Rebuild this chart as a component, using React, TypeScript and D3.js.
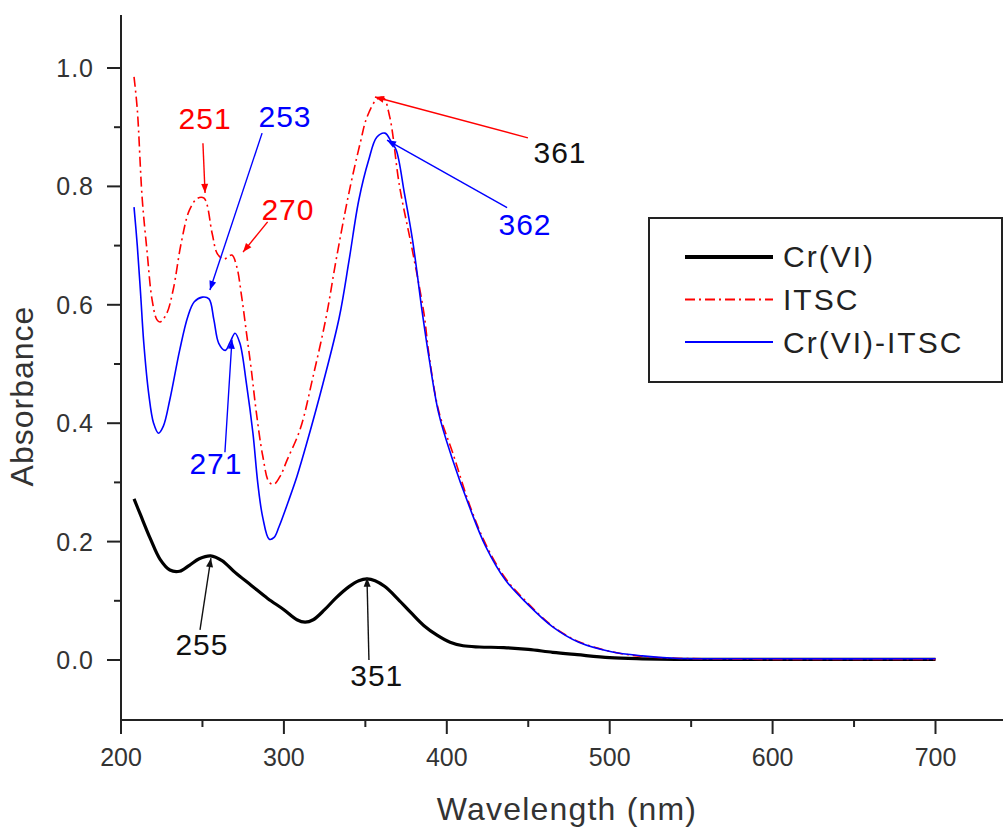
import React from "react";
import * as d3 from "d3";

// Cr(VI) alone
const crWl = [208, 212, 218, 224, 230, 236, 242, 248, 255, 262, 270, 280, 290, 300, 308, 313, 318, 325, 332, 340, 346, 351, 356, 362, 370, 378, 386, 394, 402, 410, 420, 435, 450, 465, 480, 500, 520, 540, 600, 700];
const crAbs = [0.272, 0.245, 0.205, 0.17, 0.152, 0.15, 0.16, 0.171, 0.176, 0.168, 0.148, 0.126, 0.104, 0.085, 0.068, 0.064, 0.068, 0.085, 0.105, 0.124, 0.134, 0.137, 0.134, 0.124, 0.103, 0.08, 0.058, 0.042, 0.03, 0.024, 0.022, 0.021, 0.018, 0.013, 0.009, 0.004, 0.002, 0.001, 0.001, 0.001];

// ITSC
const itscWl = [208, 210, 213, 216, 219, 222, 224, 228, 232, 237, 242, 247, 251, 256, 259, 263, 268, 271, 274, 277, 280, 283, 287, 291, 294, 298, 302, 310, 318, 326, 332, 340, 347, 351, 357, 361, 365, 371, 379, 386, 389, 395, 404, 414, 424, 436, 449, 465, 481, 501, 520, 540, 600, 700];
const itscAbs = [0.985, 0.93, 0.78, 0.69, 0.61, 0.575, 0.571, 0.585, 0.625, 0.705, 0.76, 0.78, 0.78, 0.72, 0.687, 0.677, 0.684, 0.665, 0.615, 0.553, 0.49, 0.42, 0.345, 0.3, 0.297, 0.312, 0.338, 0.39, 0.48, 0.58, 0.675, 0.79, 0.875, 0.917, 0.947, 0.95, 0.917, 0.8, 0.69, 0.585, 0.517, 0.421, 0.347, 0.262, 0.195, 0.138, 0.098, 0.057, 0.031, 0.014, 0.006, 0.003, 0.001, 0.001];

// Cr(VI)-ITSC complex
const mixWl = [208, 210, 212, 214, 217, 220, 223, 226, 230, 236, 241, 245, 250, 254, 257, 260, 264, 267, 270, 273, 277, 281, 284, 287, 291, 294, 297, 303, 308, 314, 324, 334, 340, 346, 352, 357, 362, 366, 369, 374, 379, 385, 389, 395, 403, 414, 424, 436, 449, 465, 481, 501, 520, 540, 600, 700];
const mixAbs = [0.765, 0.7, 0.62, 0.535, 0.45, 0.4, 0.383, 0.395, 0.44, 0.523, 0.58, 0.605, 0.613, 0.61, 0.575, 0.535, 0.523, 0.537, 0.552, 0.535, 0.467, 0.383, 0.298, 0.241, 0.204, 0.207, 0.225, 0.27, 0.31, 0.366, 0.467, 0.579, 0.675, 0.777, 0.844, 0.883, 0.89, 0.875, 0.861, 0.788, 0.709, 0.586, 0.512, 0.417, 0.343, 0.258, 0.191, 0.135, 0.096, 0.056, 0.03, 0.014, 0.007, 0.003, 0.002, 0.002];

const seriesNames = ["Cr(VI)", "ITSC", "Cr(VI)-ITSC"];
const xTicks = [200, 300, 400, 500, 600, 700];
const xMinor = [250, 350, 450, 550, 650];
const yTicks = [0, 0.2, 0.4, 0.6, 0.8, 1.0];
const yMinor = [0.1, 0.3, 0.5, 0.7, 0.9];

// peak labels: text, arrow tip (data units), tail and text anchor (data units)
const peakLabels = ["251", "253", "270", "361", "362", "271", "255", "351"];
const peakColors = ["#ff0000", "#0000ff", "#ff0000", "#111111", "#0000ff", "#0000ff", "#111111", "#111111"];
const lineColors = ["#ff0000", "#0000ff", "#ff0000", "#ff0000", "#0000ff", "#0000ff", "#111111", "#111111"];
const tipWl = [251.6, 254.6, 274.9, 355.9, 363.3, 268.1, 255.2, 351];
const tipAbs = [0.789, 0.625, 0.689, 0.951, 0.878, 0.541, 0.172, 0.139];
const tailWl = [250.3, 286.6, 290, 449.8, 437, 263.8, 248.5, 352.2];
const tailAbs = [0.873, 0.89, 0.74, 0.882, 0.764, 0.351, 0.051, 0.0];
const textWl = [251.6, 300.7, 302.5, 469.5, 448, 258.3, 249.7, 357];
const textAbs = [0.916, 0.919, 0.762, 0.858, 0.736, 0.333, 0.027, -0.025];

const W = 1008;
const H = 828;
const FONT = "'Liberation Sans', Arial, sans-serif";

export default function App() {
  const x = d3.scaleLinear().domain([200, 700]).range([121, 935.5]);
  const y = d3.scaleLinear().domain([0, 1]).range([660, 68]);
  const axisY = 720;
  const axisRight = 1003;
  const axisTop = 15;

  const mkLine = (wl: number[], ab: number[]) =>
    d3
      .line<number>()
      .x((_, i) => x(wl[i]))
      .y((d) => y(d))
      .curve(d3.curveCatmullRom.alpha(0.5))(ab) || "";

  const series = [
    { name: seriesNames[0], d: mkLine(crWl, crAbs), color: "#000000", width: 3.2, dash: "" },
    { name: seriesNames[1], d: mkLine(itscWl, itscAbs), color: "#ff0000", width: 1.6, dash: "10,4,2,4" },
    { name: seriesNames[2], d: mkLine(mixWl, mixAbs), color: "#0000ff", width: 1.6, dash: "" },
  ];

  const arrowTip = (i: number) => {
    const tx = x(tipWl[i]);
    const ty = y(tipAbs[i]);
    const sx = x(tailWl[i]);
    const sy = y(tailAbs[i]);
    const ang = Math.atan2(ty - sy, tx - sx);
    const len = 9;
    const half = 3.5;
    const bx = tx - len * Math.cos(ang);
    const by = ty - len * Math.sin(ang);
    const px = -Math.sin(ang) * half;
    const py = Math.cos(ang) * half;
    return `M${tx},${ty}L${bx + px},${by + py}L${bx - px},${by - py}Z`;
  };

  return (
    <div style={{ position: "absolute", left: 0, top: 0 }}>
      <svg width={W} height={H} style={{ display: "block", background: "#ffffff" }} fontFamily={FONT}>
        {/* series */}
        {series.map((s) => (
          <path
            key={s.name}
            d={s.d}
            fill="none"
            stroke={s.color}
            strokeWidth={s.width}
            strokeDasharray={s.dash || undefined}
            strokeLinejoin="round"
          />
        ))}

        {/* axes */}
        <line x1={121} x2={axisRight} y1={axisY} y2={axisY} stroke="#222" strokeWidth={2} />
        <line x1={121} x2={121} y1={axisTop} y2={axisY} stroke="#222" strokeWidth={2} />
        {xTicks.map((t) => (
          <g key={"xt" + t}>
            <line x1={x(t)} x2={x(t)} y1={axisY} y2={axisY + 14} stroke="#222" strokeWidth={2} />
            <text x={x(t)} y={766} textAnchor="middle" fontSize={25} fill="#333">
              {t}
            </text>
          </g>
        ))}
        {xMinor.map((t) => (
          <line key={"xm" + t} x1={x(t)} x2={x(t)} y1={axisY} y2={axisY + 7} stroke="#222" strokeWidth={2} />
        ))}
        {yTicks.map((t) => (
          <g key={"yt" + t}>
            <line x1={107} x2={121} y1={y(t)} y2={y(t)} stroke="#222" strokeWidth={2} />
            <text x={94} y={y(t) + 9} textAnchor="end" fontSize={25} fill="#333" letterSpacing={1}>
              {d3.format(".1f")(t)}
            </text>
          </g>
        ))}
        {yMinor.map((t) => (
          <line key={"ym" + t} x1={114} x2={121} y1={y(t)} y2={y(t)} stroke="#222" strokeWidth={2} />
        ))}

        {/* axis titles */}
        <text x={567} y={820} textAnchor="middle" fontSize={32} fill="#333" letterSpacing={1.2}>
          Wavelength (nm)
        </text>
        <text
          transform={`translate(33,396) rotate(-90)`}
          textAnchor="middle"
          fontSize={32}
          fill="#333"
          letterSpacing={1}
        >
          Absorbance
        </text>

        {/* peak annotations */}
        {peakLabels.map((lab, i) => (
          <g key={"pk" + i}>
            <line
              x1={x(tailWl[i])}
              y1={y(tailAbs[i])}
              x2={x(tipWl[i])}
              y2={y(tipAbs[i])}
              stroke={lineColors[i]}
              strokeWidth={1.4}
            />
            <path d={arrowTip(i)} fill={lineColors[i]} />
            <text
              x={x(textWl[i])}
              y={y(textAbs[i]) + 11}
              textAnchor="middle"
              fontSize={30}
              fill={peakColors[i]}
              letterSpacing={1}
            >
              {lab}
            </text>
          </g>
        ))}

        {/* legend */}
        <rect x={649} y={218} width={353} height={164} fill="#fff" stroke="#222" strokeWidth={2} />
        {series.map((s, i) => (
          <g key={"lg" + s.name}>
            <line
              x1={685}
              x2={773}
              y1={257 + i * 42.5}
              y2={257 + i * 42.5}
              stroke={s.color}
              strokeWidth={i === 0 ? 4 : 2}
              strokeDasharray={s.dash || undefined}
            />
            <text x={783} y={267 + i * 43} fontSize={30} fill="#222" letterSpacing={2}>
              {s.name}
            </text>
          </g>
        ))}
      </svg>
    </div>
  );
}
